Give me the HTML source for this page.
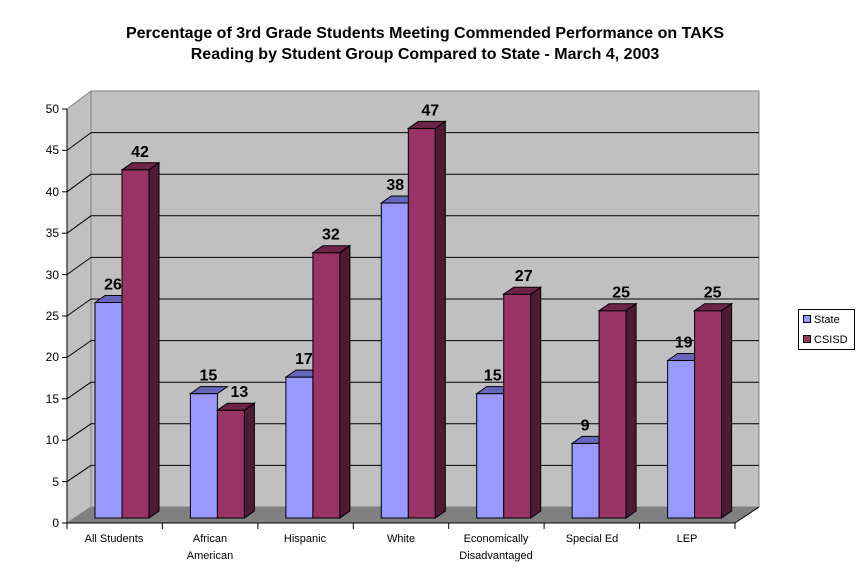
<!DOCTYPE html>
<html><head><style>body{margin:0;background:#fff}svg{display:block;font-family:"Liberation Sans",Arial,sans-serif}</style></head>
<body>
<svg width="865" height="584" viewBox="0 0 865 584" xmlns="http://www.w3.org/2000/svg">
<text x="425" y="38" text-anchor="middle" font-size="16" font-weight="bold">Percentage of 3rd Grade Students Meeting Commended Performance on TAKS</text>
<text x="425" y="59" text-anchor="middle" font-size="16" font-weight="bold">Reading by Student Group Compared to State - March 4, 2003</text>
<!-- walls -->
<polygon points="91,91 759,91 759,507 91,507" fill="#c0c0c0" stroke="#808080"/>
<polygon points="67,109 91,91 91,507 67,523" fill="#c0c0c0" stroke="#808080"/>
<polygon points="67,523 91,507 759,507 735,523" fill="#808080"/>
<g stroke="#000" stroke-width="1">
<line x1="91" y1="132.6" x2="759" y2="132.6"/><line x1="67" y1="150.4" x2="91" y2="132.6"/>
<line x1="91" y1="174.2" x2="759" y2="174.2"/><line x1="67" y1="191.8" x2="91" y2="174.2"/>
<line x1="91" y1="215.8" x2="759" y2="215.8"/><line x1="67" y1="233.2" x2="91" y2="215.8"/>
<line x1="91" y1="257.4" x2="759" y2="257.4"/><line x1="67" y1="274.6" x2="91" y2="257.4"/>
<line x1="91" y1="299" x2="759" y2="299"/><line x1="67" y1="316" x2="91" y2="299"/>
<line x1="91" y1="340.6" x2="759" y2="340.6"/><line x1="67" y1="357.4" x2="91" y2="340.6"/>
<line x1="91" y1="382.2" x2="759" y2="382.2"/><line x1="67" y1="398.8" x2="91" y2="382.2"/>
<line x1="91" y1="423.8" x2="759" y2="423.8"/><line x1="67" y1="440.2" x2="91" y2="423.8"/>
<line x1="91" y1="465.4" x2="759" y2="465.4"/><line x1="67" y1="481.6" x2="91" y2="465.4"/>
<line x1="67" y1="109" x2="67" y2="523"/>
<line x1="67" y1="523" x2="735" y2="523"/>
<line x1="735" y1="523" x2="759" y2="507"/>
</g>
<g stroke="#000">
<line x1="62" y1="109" x2="67" y2="109"/><line x1="62" y1="150.4" x2="67" y2="150.4"/><line x1="62" y1="191.8" x2="67" y2="191.8"/><line x1="62" y1="233.2" x2="67" y2="233.2"/><line x1="62" y1="274.6" x2="67" y2="274.6"/><line x1="62" y1="316" x2="67" y2="316"/><line x1="62" y1="357.4" x2="67" y2="357.4"/><line x1="62" y1="398.8" x2="67" y2="398.8"/><line x1="62" y1="440.2" x2="67" y2="440.2"/><line x1="62" y1="481.6" x2="67" y2="481.6"/><line x1="62" y1="523" x2="67" y2="523"/>
<line x1="67" y1="523" x2="67" y2="529"/><line x1="162.4" y1="523" x2="162.4" y2="529"/><line x1="257.9" y1="523" x2="257.9" y2="529"/><line x1="353.3" y1="523" x2="353.3" y2="529"/><line x1="448.7" y1="523" x2="448.7" y2="529"/><line x1="544.1" y1="523" x2="544.1" y2="529"/><line x1="639.6" y1="523" x2="639.6" y2="529"/><line x1="735" y1="523" x2="735" y2="529"/>
</g>
<g font-size="12" text-anchor="end">
<text x="59" y="113">50</text><text x="59" y="154">45</text><text x="59" y="196">40</text><text x="59" y="237">35</text><text x="59" y="279">30</text><text x="59" y="320">25</text><text x="59" y="361">20</text><text x="59" y="403">15</text><text x="59" y="444">10</text><text x="59" y="486">5</text><text x="59" y="527">0</text>
</g>
<g font-size="11" text-anchor="middle">
<text x="114" y="542">All Students</text>
<text x="210" y="542">African</text><text x="210" y="559">American</text>
<text x="305" y="542">Hispanic</text>
<text x="401" y="542">White</text>
<text x="496" y="542">Economically</text><text x="496" y="559">Disadvantaged</text>
<text x="592" y="542">Special Ed</text>
<text x="687" y="542">LEP</text>
</g>
<defs>
<g id="s"><polygon points="27,0 37,-7 37,0 27,0" /></g>
</defs>
<g stroke="#000" stroke-width="1" font-size="16" font-weight="bold" text-anchor="middle">
<!-- bar template inline -->
<g transform="translate(95,302.5)"><rect width="27" height="215.5" fill="#9999ff"/><polygon points="0,0 10,-7 37,-7 27,0" fill="#6666bb"/><text x="18" y="-13" stroke="none">26</text></g>
<g transform="translate(122,169.8)"><rect width="27" height="348.2" fill="#993366"/><polygon points="27,0 37,-7 37,341.2 27,348.2" fill="#4f1a36"/><polygon points="0,0 10,-7 37,-7 27,0" fill="#6e2448"/><text x="18" y="-13" stroke="none">42</text></g>

<g transform="translate(190.4,393.6)"><rect width="27" height="124.4" fill="#9999ff"/><polygon points="0,0 10,-7 37,-7 27,0" fill="#6666bb"/><text x="18" y="-13" stroke="none">15</text></g>
<g transform="translate(217.4,410.2)"><rect width="27" height="107.8" fill="#993366"/><polygon points="27,0 37,-7 37,100.8 27,107.8" fill="#4f1a36"/><polygon points="0,0 10,-7 37,-7 27,0" fill="#6e2448"/><text x="22" y="-13" stroke="none">13</text></g>

<g transform="translate(285.9,377.1)"><rect width="27" height="140.9" fill="#9999ff"/><polygon points="0,0 10,-7 37,-7 27,0" fill="#6666bb"/><text x="18" y="-13" stroke="none">17</text></g>
<g transform="translate(312.9,252.7)"><rect width="27" height="265.3" fill="#993366"/><polygon points="27,0 37,-7 37,258.3 27,265.3" fill="#4f1a36"/><polygon points="0,0 10,-7 37,-7 27,0" fill="#6e2448"/><text x="18" y="-13" stroke="none">32</text></g>

<g transform="translate(381.3,203)"><rect width="27" height="315" fill="#9999ff"/><polygon points="0,0 10,-7 37,-7 27,0" fill="#6666bb"/><text x="14" y="-13" stroke="none">38</text></g>
<g transform="translate(408.3,128.4)"><rect width="27" height="389.6" fill="#993366"/><polygon points="27,0 37,-7 37,382.6 27,389.6" fill="#4f1a36"/><polygon points="0,0 10,-7 37,-7 27,0" fill="#6e2448"/><text x="22" y="-13" stroke="none">47</text></g>

<g transform="translate(476.7,393.6)"><rect width="27" height="124.4" fill="#9999ff"/><polygon points="0,0 10,-7 37,-7 27,0" fill="#6666bb"/><text x="16" y="-13" stroke="none">15</text></g>
<g transform="translate(503.7,294.2)"><rect width="27" height="223.8" fill="#993366"/><polygon points="27,0 37,-7 37,216.8 27,223.8" fill="#4f1a36"/><polygon points="0,0 10,-7 37,-7 27,0" fill="#6e2448"/><text x="20" y="-13" stroke="none">27</text></g>

<g transform="translate(572.1,443.4)"><rect width="27" height="74.6" fill="#9999ff"/><polygon points="0,0 10,-7 37,-7 27,0" fill="#6666bb"/><text x="13" y="-13" stroke="none">9</text></g>
<g transform="translate(599.1,310.7)"><rect width="27" height="207.3" fill="#993366"/><polygon points="27,0 37,-7 37,200.3 27,207.3" fill="#4f1a36"/><polygon points="0,0 10,-7 37,-7 27,0" fill="#6e2448"/><text x="22" y="-13" stroke="none">25</text></g>

<g transform="translate(667.6,360.5)"><rect width="27" height="157.5" fill="#9999ff"/><polygon points="0,0 10,-7 37,-7 27,0" fill="#6666bb"/><text x="16" y="-13" stroke="none">19</text></g>
<g transform="translate(694.6,310.7)"><rect width="27" height="207.3" fill="#993366"/><polygon points="27,0 37,-7 37,200.3 27,207.3" fill="#4f1a36"/><polygon points="0,0 10,-7 37,-7 27,0" fill="#6e2448"/><text x="18" y="-13" stroke="none">25</text></g>
</g>
<!-- legend -->
<rect x="798.5" y="309.5" width="56" height="40" fill="#fff" stroke="#000"/>
<rect x="803.5" y="315.5" width="7" height="7" fill="#9999ff" stroke="#000"/>
<rect x="803.5" y="335.5" width="7" height="7" fill="#993366" stroke="#000"/>
<text x="814" y="323" font-size="11">State</text>
<text x="814" y="343" font-size="11">CSISD</text>
</svg>
</body></html>
